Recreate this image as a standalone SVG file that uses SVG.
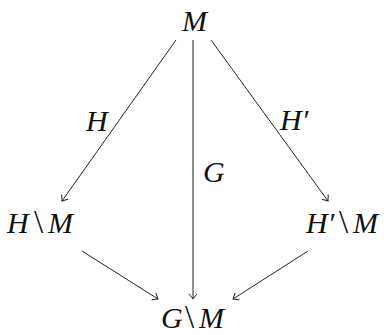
<svg xmlns="http://www.w3.org/2000/svg" width="384" height="335" viewBox="0 0 384 335">
<style>
.t{font-family:"Liberation Serif","Times New Roman",serif;font-style:italic;font-size:30px;fill:#111;}
.bs{font-style:normal;font-size:33px;}
.e{stroke:#222;stroke-width:1;fill:none;marker-end:url(#ar);}
</style>
<defs>
<marker id="ar" markerUnits="userSpaceOnUse" markerWidth="12" markerHeight="12" viewBox="-6 -6 12 12" refX="0" refY="0" orient="auto">
<path d="M-5,-4 Q-1.5,-1 0,0 Q-1.5,1 -5,4" fill="none" stroke="#222" stroke-width="1"/>
</marker>
</defs>
<g id="n-M"><text class="t" x="182" y="31">M</text></g>
<g id="n-HM"><text class="t" y="233"><tspan x="7">H</tspan><tspan class="bs" x="34">\</tspan><tspan x="48">M</tspan></text></g>
<g id="n-HpM"><text class="t" y="233"><tspan x="306">H′</tspan><tspan class="bs" x="339">\</tspan><tspan x="353">M</tspan></text></g>
<g id="n-GM"><text class="t" y="328"><tspan x="161">G</tspan><tspan class="bs" x="185">\</tspan><tspan x="199">M</tspan></text></g>
<g id="edges">
<line class="e" x1="176" y1="40" x2="62" y2="201"/>
<line class="e" x1="193" y1="40" x2="193" y2="299"/>
<line class="e" x1="211" y1="40" x2="328" y2="201"/>
<line class="e" x1="82" y1="251" x2="158" y2="299"/>
<line class="e" x1="308" y1="251" x2="233" y2="299"/>
<text class="t" x="86" y="131">H</text>
<text class="t" x="203" y="182">G</text>
<text class="t" x="280" y="130">H′</text>
</g>
</svg>
